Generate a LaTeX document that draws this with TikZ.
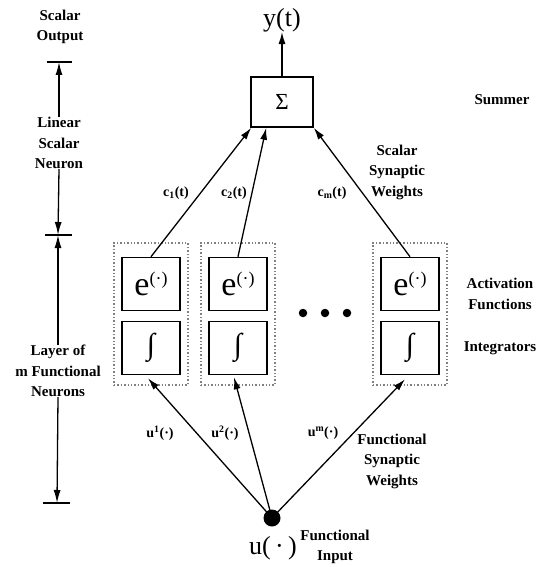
\documentclass[tikz,border=0pt]{standalone}
\usepackage{fontspec}
\setmainfont{Liberation Serif}
\usetikzlibrary{arrows.meta,calc}
\begin{document}
\begin{tikzpicture}[x=1pt,y=-1pt,
  lbl/.style={font=\fontsize{15}{20.5}\selectfont\bfseries, align=center, inner sep=0},
  small/.style={font=\fontsize{14}{15}\selectfont\bfseries, inner sep=0},
  big/.style={font=\fontsize{26}{28}\selectfont, inner sep=0},
  unitbox/.style={draw, line width=1.6pt, minimum width=58pt, minimum height=53pt, inner sep=0},
  group/.style={draw=gray, dotted, line width=1.4pt, minimum width=74pt, minimum height=142pt, inner sep=0},
  arr/.style={line width=1.3pt, -{Latex[length=12pt,width=7pt]}},
  layerarr/.style={line width=1.3pt, -{Latex[length=13pt,width=7pt]}},
  tick/.style={line width=1.3pt},
  dotc/.style={circle, fill=black, inner sep=0}]
\useasboundingbox (0,0) rectangle (539,567);

% summer and output
\node[draw, line width=1.6pt, minimum width=62pt, minimum height=50pt, inner sep=0,
      font=\fontsize{23}{23}\selectfont] (sum) at (282,102) {Σ};
\node[big] (y) at (282,20) {y(t)};
\draw[arr] (sum.north) -- (y.south);

% functional neurons: groups, activation and integrator boxes
\foreach \n/\x in {1/151, 2/238, m/410} {
  \node[group] (g\n) at (\x,314) {};
  \node[unitbox, font=\fontsize{34}{34}\selectfont] (e\n) at (\x,284)
    {e\raisebox{11pt}{\fontsize{18}{18}\selectfont(·)}};
  \node[unitbox, font=\fontsize{30}{30}\selectfont] (i\n) at (\x,348) {∫};
}

% ellipsis dots
\foreach \x [count=\k] in {303,325,347}
  \node[dotc, minimum size=8.5pt] (dot\k) at (\x,313) {};

% scalar synaptic weights
\coordinate (t1) at ($(sum.south west)+(1,0)$);
\coordinate (t2) at ($(sum.south west)+(16,0)$);
\coordinate (t3) at ($(sum.south east)+(0,0)$);
\draw[arr] (e1.north) -- (t1);
\draw[arr] (e2.north) -- (t2);
\draw[arr] (em.north) -- (t3);
\node[small] (c1) at (176,193) {c\textsubscript{1}(t)};
\node[small] (c2) at (234,193) {c\textsubscript{2}(t)};
\node[small] (cm) at (332,193) {c\textsubscript{m}(t)};

% functional input and functional synaptic weights
\node[dotc, minimum size=17pt] (in) at (272,518) {};
\node[big] (u) at (273,548) {u(\,·\,)};
\coordinate (b1) at ($(i1.south)+(-3,3)$);
\coordinate (b2) at ($(i2.south)+(-4,2)$);
\coordinate (b3) at ($(im.south)+(-5,4)$);
\draw[arr] (in.center) -- (b1);
\draw[arr] (in.center) -- (b2);
\draw[arr] (in.center) -- (b3);
\node[small] (u1) at (160,433) {u\textsuperscript{1}(·)};
\node[small] (u2) at (225,433) {u\textsuperscript{2}(·)};
\node[small] (um) at (323,433) {u\textsuperscript{m}(·)};

% right-hand labels
\node[lbl] (lsum) at (502,100) {Summer};
\node[lbl] (lssw) at (397,172) {Scalar\\Synaptic\\Weights};
\node[lbl] (lact) at (500,294) {Activation\\Functions};
\node[lbl] (lint) at (500,348) {Integrators};
\node[lbl] (lfsw) at (392,461) {Functional\\Synaptic\\Weights};
\node[lbl] (lfin) at (335,547) {Functional\\Input};

% left-hand layer scale
\node[lbl] (so) at (60,27) {Scalar\\Output};
\node[lbl] (lsn) at (59,143) {Linear\\Scalar\\Neuron};
\node[lbl] (lfn) at (58,371) {Layer of\\m Functional\\Neurons};
\coordinate (k1) at (59,62);
\coordinate (k2) at (58,235);
\coordinate (k3) at (57,503);
\draw[tick] ($(k1)+(-12,0)$) -- ($(k1)+(13,0)$);
\draw[tick] ($(k2)+(-13,0)$) -- ($(k2)+(14,0)$);
\draw[tick] ($(k3)+(-14,0)$) -- ($(k3)+(13,0)$);
\draw[layerarr] (lsn.north) -- (k1);
\draw[layerarr] (lsn.south) -- (k2);
\draw[layerarr] (lfn.north) -- (k2);
\draw[layerarr] (lfn.south) -- (k3);
\end{tikzpicture}
\end{document}
